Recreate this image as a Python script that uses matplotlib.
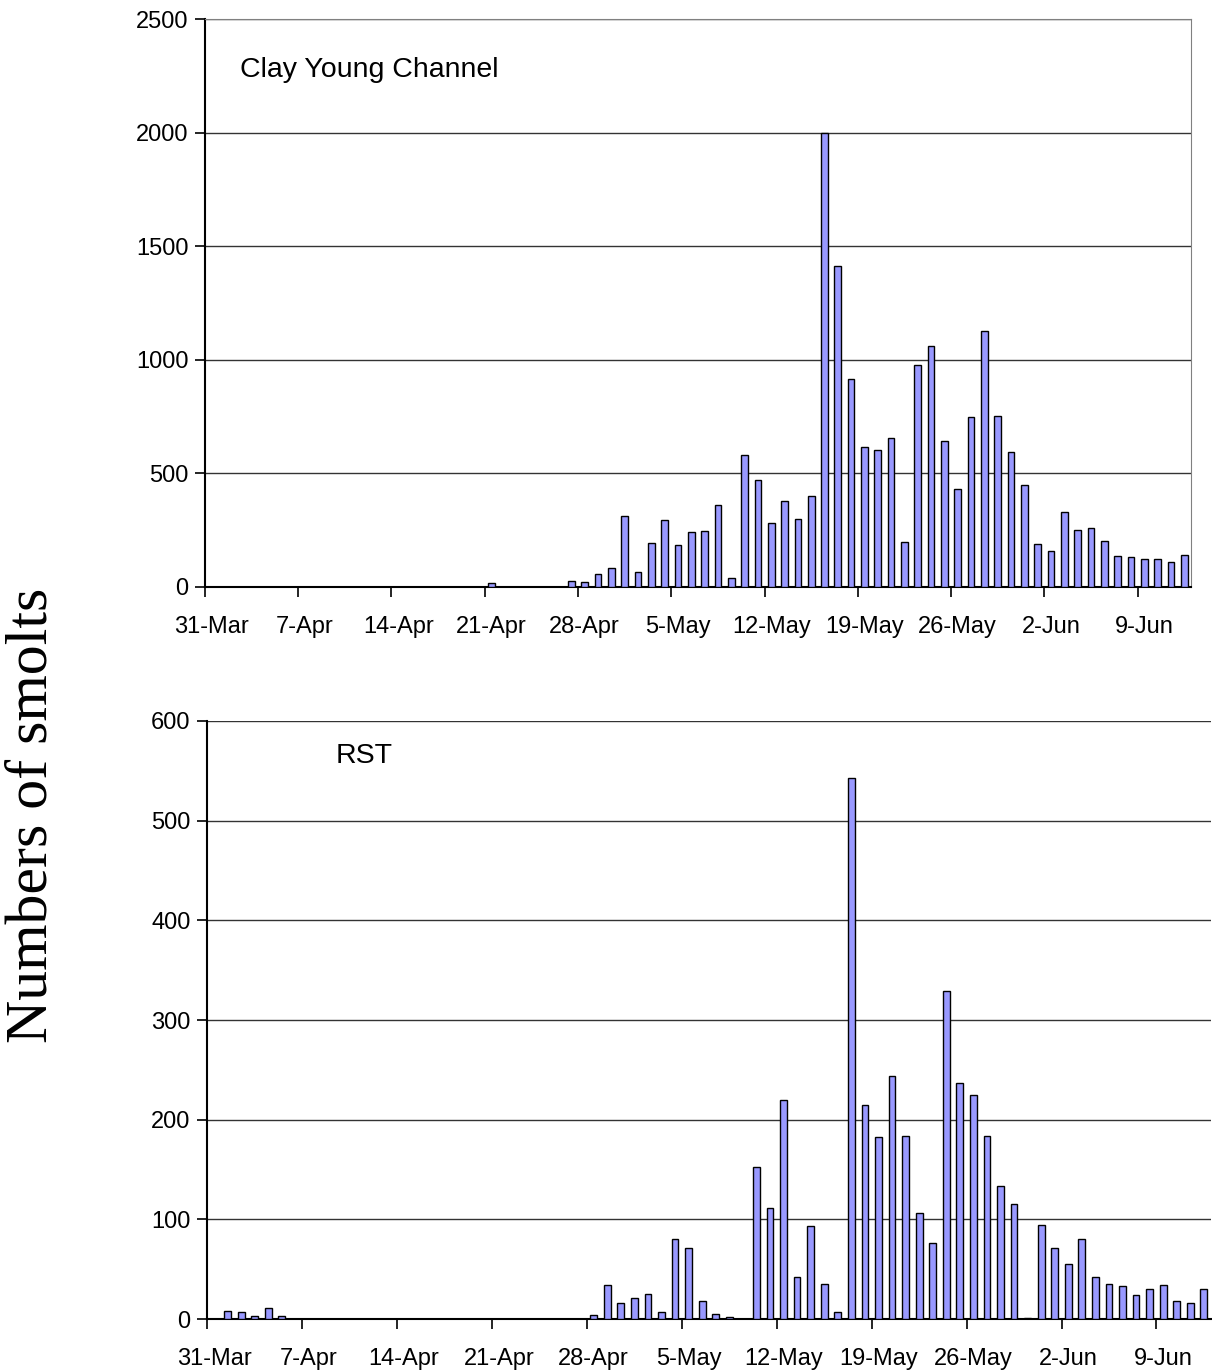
import matplotlib
matplotlib.use("Agg")
import matplotlib.pyplot as plt
import numpy as np

# day offsets counted from 31-Mar
date_labels = ["31-Mar", "7-Apr", "14-Apr", "21-Apr", "28-Apr", "5-May",
               "12-May", "19-May", "26-May", "2-Jun", "9-Jun"]
n_days = 74

cy_days = [0, 1, 2, 3, 21, 27, 28, 29, 30, 31, 32, 33, 34, 35, 36, 37, 38, 39,
           40, 41, 42, 43, 44, 45, 46, 47, 48, 49, 50, 51, 52, 53, 54, 55, 56,
           57, 58, 59, 60, 61, 62, 63, 64, 65, 66, 67, 68, 69, 70, 71, 72, 73]
cy_counts = [0, 0, 0, 0, 16, 28, 22, 56, 84, 311, 68, 195, 294, 183, 240, 245,
             361, 38, 580, 473, 283, 378, 299, 401, 2000, 1415, 915, 615, 605,
             655, 198, 976, 1063, 643, 432, 749, 1126, 755, 593, 449, 188, 159,
             330, 250, 261, 204, 138, 132, 125, 125, 109, 142]

rst_days = [1, 2, 3, 4, 5, 28, 29, 30, 31, 32, 33, 34, 35, 36, 37, 38, 40, 41,
            42, 43, 44, 45, 46, 47, 48, 49, 50, 51, 52, 53, 54, 55, 56, 57, 58,
            59, 60, 61, 62, 63, 64, 65, 66, 67, 68, 69, 70, 71, 72, 73]
rst_counts = [8, 7, 3, 11, 3, 4, 34, 16, 21, 25, 7, 80, 71, 18, 5, 2, 153, 111,
              220, 42, 93, 35, 7, 543, 215, 183, 244, 184, 106, 76, 329, 237,
              225, 184, 133, 115, 1, 94, 71, 55, 80, 42, 35, 33, 24, 30, 34, 18,
              16, 30]

plt.rcParams['font.family'] = ['Liberation Sans', 'DejaVu Sans']
BAR = "#9999ff"
FS = 17

fig = plt.figure(figsize=(12.12, 13.72), dpi=100)
ax1 = fig.add_axes([0.1691, 0.5722, 0.8135, 0.4136])
ax2 = fig.add_axes([0.1710, 0.0386, 0.8279, 0.4359])


def panel(ax, days, counts, ymax, ystep, label, lx, ly, box):
    ax.bar(np.array(days) + 0.5, counts, width=0.5, color=BAR,
           edgecolor="black", linewidth=1.0, zorder=3)
    ax.set_xlim(0, n_days)
    ax.set_ylim(0, ymax)
    ax.set_yticks(np.arange(0, ymax + 1, ystep))
    ax.grid(axis="y", color="#333333", linewidth=1.0, zorder=0)
    # tick marks on week boundaries, labels centred on the day
    ticks = np.arange(0, 71, 7)
    ax.set_xticks(ticks)
    ax.set_xticklabels([])
    ax.set_xticks(ticks + 0.5, minor=True)
    ax.set_xticklabels(date_labels, minor=True)
    ax.tick_params(axis="x", which="major", length=7, width=1.2, direction="out")
    ax.tick_params(axis="x", which="minor", length=0, pad=21, labelsize=FS)
    ax.tick_params(axis="y", length=7, width=1.2, pad=5, labelsize=FS)
    for s in ["left", "bottom"]:
        ax.spines[s].set_color("black")
        ax.spines[s].set_linewidth(1.5)
    for s in ["top", "right"]:
        ax.spines[s].set_visible(box)
        ax.spines[s].set_color("#808080")
    ax.text(lx, ly, label, transform=ax.transAxes, fontsize=20.5,
            va="center", ha="left")


panel(ax1, cy_days, cy_counts, 2500, 500, "Clay Young Channel", 0.0355, 0.911, True)
panel(ax2, rst_days, rst_counts, 600, 100, "RST", 0.128, 0.941, False)

fig.text(33 / 1212, 1 - 815 / 1372, "Numbers of smolts", rotation=90,
         fontsize=43, family=["Liberation Serif", "DejaVu Serif"],
         ha="center", va="center")

fig.savefig("out.png", dpi=100)
